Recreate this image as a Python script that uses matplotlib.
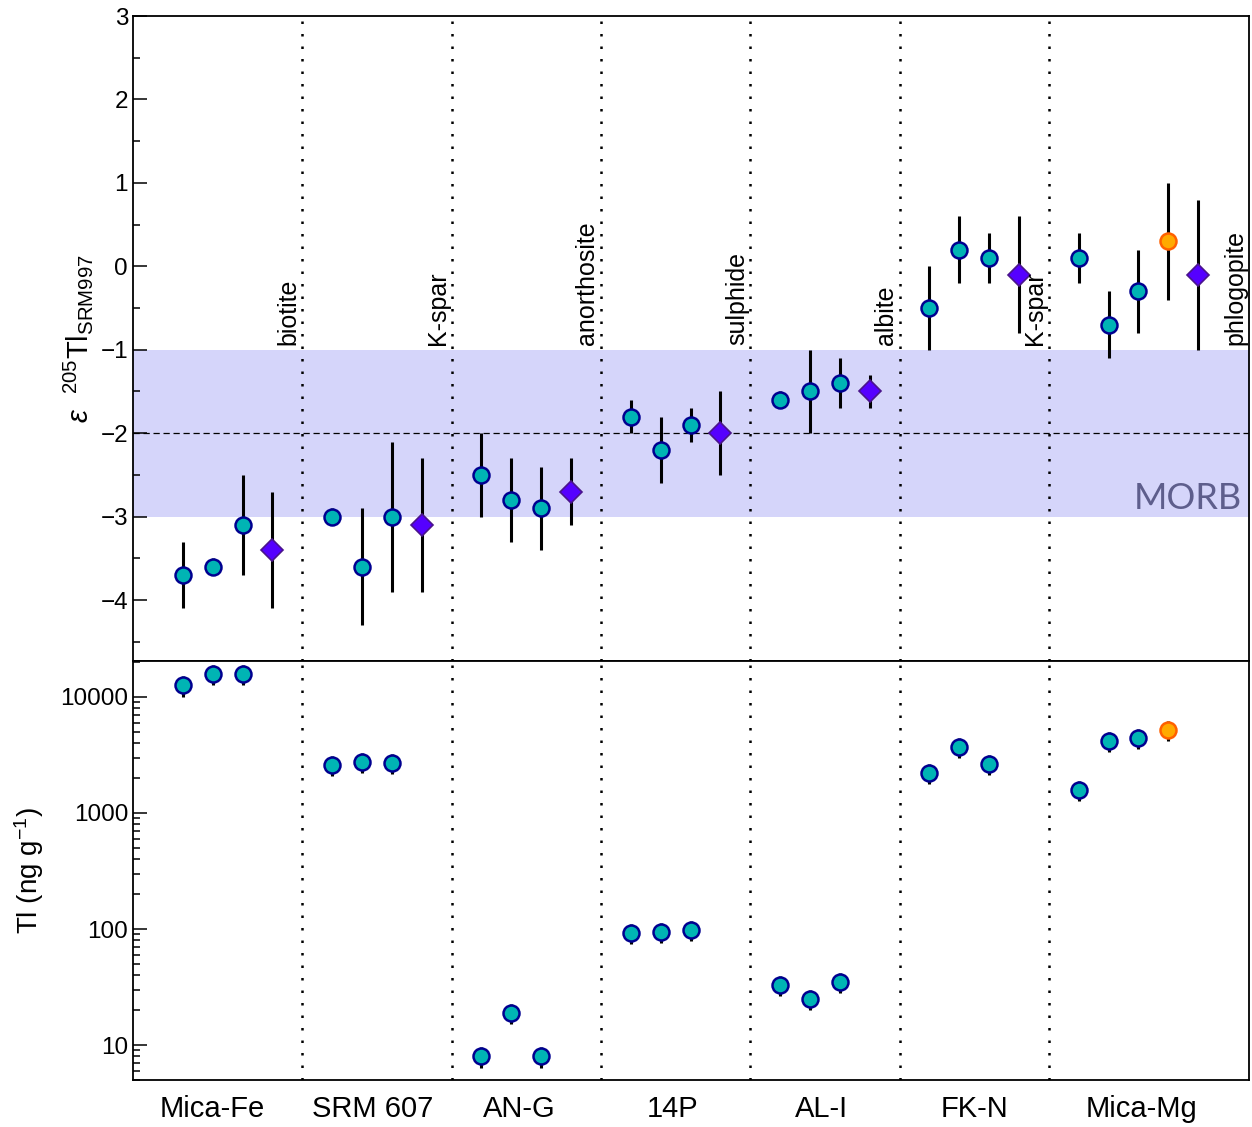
import numpy as np
import matplotlib.pyplot as plt

plt.rcParams['font.family'] = ['Liberation Sans', 'DejaVu Sans']
plt.rcParams['mathtext.fontset'] = 'custom'
plt.rcParams['mathtext.rm'] = 'Liberation Sans'
plt.rcParams['mathtext.it'] = 'Liberation Sans:italic'
plt.rcParams['mathtext.bf'] = 'Liberation Sans:bold'

# reference materials
groups = ['Mica-Fe', 'SRM 607', 'AN-G', '14P', 'AL-I', 'FK-N', 'Mica-Mg']
minerals = ['biotite', 'K-spar', 'anorthosite', 'sulphide', 'albite', 'K-spar', 'phlogopite']

# epsilon 205Tl and 2sd per analysis ('c' = digest, 'o' = second digest, 'd' = mean)
eps = [[-3.7, -3.6, -3.1, -3.4],
       [-3.0, -3.6, -3.0, -3.1],
       [-2.5, -2.8, -2.9, -2.7],
       [-1.8, -2.2, -1.9, -2.0],
       [-1.6, -1.5, -1.4, -1.5],
       [-0.5, 0.2, 0.1, -0.1],
       [0.1, -0.7, -0.3, 0.3, -0.1]]
eps_err = [[0.4, 0.1, 0.6, 0.7],
           [0.1, 0.7, 0.9, 0.8],
           [0.5, 0.5, 0.5, 0.4],
           [0.2, 0.4, 0.2, 0.5],
           [0.1, 0.5, 0.3, 0.2],
           [0.5, 0.4, 0.3, 0.7],
           [0.3, 0.4, 0.5, 0.7, 0.9]]
kinds = [['c', 'c', 'c', 'd'],
         ['c', 'c', 'c', 'd'],
         ['c', 'c', 'c', 'd'],
         ['c', 'c', 'c', 'd'],
         ['c', 'c', 'c', 'd'],
         ['c', 'c', 'c', 'd'],
         ['c', 'c', 'c', 'o', 'd']]

# Tl concentrations (ng/g), one per digest
tl_conc = [[12600, 15800, 15800],
           [2590, 2750, 2700],
           [8.0, 18.9, 8.0],
           [92.5, 94, 98],
           [32.9, 24.9, 34.9],
           [2210, 3700, 2640],
           [1580, 4180, 4440, 5200]]
tl_relerr = 0.2

morb_lo, morb_mid, morb_hi = -3.0, -2.0, -1.0

styles = {'c': dict(marker='o', ms=11.5, mfc='#00b4b4', mec='#000090', mew=1.8),
          'o': dict(marker='o', ms=11.5, mfc='#ffaa00', mec='#ff6000', mew=1.8),
          'd': dict(marker='D', ms=11, mfc='#5500ff', mec='#4a148c', mew=1.2)}

group_w = 5
seps = [group_w * (g + 1) for g in range(len(groups) - 1)]
label_x = [1.97, 7.37, 12.26, 17.4, 22.4, 27.5, 33.1]
mineral_x = [s - 0.45 for s in seps] + [36.23]

fig = plt.figure(figsize=(12.52, 11.27), dpi=100)
ax1 = fig.add_axes([0.1062, 0.4135, 0.8914, 0.5723])
ax2 = fig.add_axes([0.1062, 0.0417, 0.8914, 0.3718])

ax1.axhspan(morb_lo, morb_hi, color='#d5d5fa', lw=0, zorder=0)
ax1.axhline(morb_mid, color='black', lw=0.9, ls=(0, (5, 3)), zorder=1)
ax1.text(36.45, morb_lo + 0.02, 'MORB', color='#5e5e8c', fontsize=26, family='Lato',
         fontweight='normal', ha='right', va='bottom', zorder=1)

for g in range(len(groups)):
    xs = [group_w * g + 1 + i for i in range(len(eps[g]))]
    for i, x in enumerate(xs):
        ax1.errorbar(x, eps[g][i], yerr=eps_err[g][i], fmt='none', ecolor='black',
                     elinewidth=2.2, capsize=0, zorder=3)
        ax1.plot(x, eps[g][i], ls='none', zorder=4, **styles[kinds[g][i]])
    for i, c in enumerate(tl_conc[g]):
        ax2.errorbar(xs[i], c, yerr=c * tl_relerr, fmt='none', ecolor='black',
                     elinewidth=2.2, capsize=0, zorder=3)
        ax2.plot(xs[i], c, ls='none', zorder=4, **styles[kinds[g][i]])

for ax in (ax1, ax2):
    for s in seps:
        ax.axvline(s, color='black', lw=1.8, ls=(0, (1, 4)), zorder=2)
    ax.set_xlim(-0.67, 36.7)
    for sp in ax.spines.values():
        sp.set_linewidth(1.3)
    ax.tick_params(axis='y', which='major', direction='in', length=10, width=1.1,
                   labelsize=17.5, right=False)
    ax.tick_params(axis='y', which='minor', direction='in', length=5, width=1.1)

for x, m in zip(mineral_x, minerals):
    ax1.text(x, -0.94, m, rotation=90, ha='center', va='bottom', fontsize=18, zorder=5)

ax1.set_ylim(-4.73, 3)
ax1.set_yticks(np.arange(-4, 4, 1))
ax1.set_yticks(np.arange(-4.5, 3, 0.5), minor=True)
ax1.set_xticks([])
ax1.set_ylabel(r'$\mathit{ε}\ \ ^{205}\mathrm{Tl}_{\mathrm{SRM997}}$', fontsize=21, labelpad=4)

ax2.set_yscale('log')
ax2.set_ylim(5, 20400)
ax2.set_yticks([10, 100, 1000, 10000], ['10', '100', '1000', '10000'])
ax2.set_xticks(label_x, groups)
ax2.tick_params(axis='x', length=0, pad=11, labelsize=21)
ax2.set_ylabel(r'Tl (ng g$^{-1}$)', fontsize=20, labelpad=10)

fig.savefig('out.png', dpi=100)
